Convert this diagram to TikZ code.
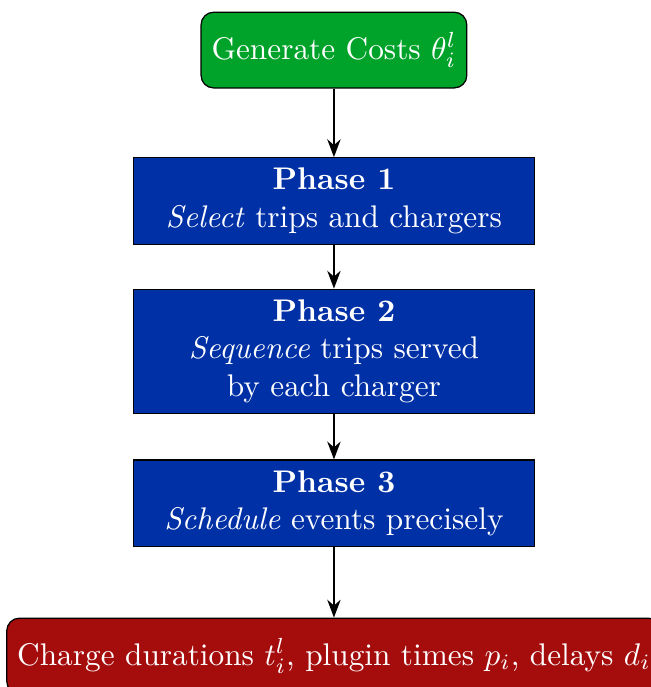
\documentclass[tikz,border=0pt]{standalone}
\usepackage{amsmath}
\usepackage{xcolor}
\usepackage{tikz}
\usetikzlibrary{arrows.meta,positioning}

\definecolor{costgreen}{RGB}{0,163,42}
\definecolor{phaseblue}{RGB}{0,48,166}
\definecolor{outred}{RGB}{165,13,13}

\begin{document}
\begin{tikzpicture}[
  node distance=0.49cm,
  endbox/.style={rectangle, rounded corners, draw, text=white, align=center, minimum height=0.85cm},
  phasebox/.style={rectangle, draw, fill=phaseblue, text=white, align=center, minimum width=4.5cm},
  arrow/.style={-Stealth, semithick}
]
\useasboundingbox (-106.7pt,16pt) rectangle (101.3pt,-203.5pt);

\node[endbox, fill=costgreen] (gen) at (0,0) {Generate Costs $\theta_i^l$};
\node[phasebox, below=0.77cm of gen] (phase1) {\textbf{Phase 1}\\\textit{Select} trips and chargers};
\node[phasebox, below=of phase1] (phase2) {\textbf{Phase 2}\\\textit{Sequence} trips served\\by each charger};
\node[phasebox, below=0.51cm of phase2] (phase3) {\textbf{Phase 3}\\\textit{Schedule} events precisely};
\node[endbox, fill=outred, below=0.79cm of phase3] (out) {Charge durations $t_i^l$, plugin times $p_i$, delays $d_i$};

\draw[arrow] (gen) -- (phase1);
\draw[arrow] (phase1) -- (phase2);
\draw[arrow] (phase2) -- (phase3);
\draw[arrow] (phase3) -- (out);

\end{tikzpicture}
\end{document}
